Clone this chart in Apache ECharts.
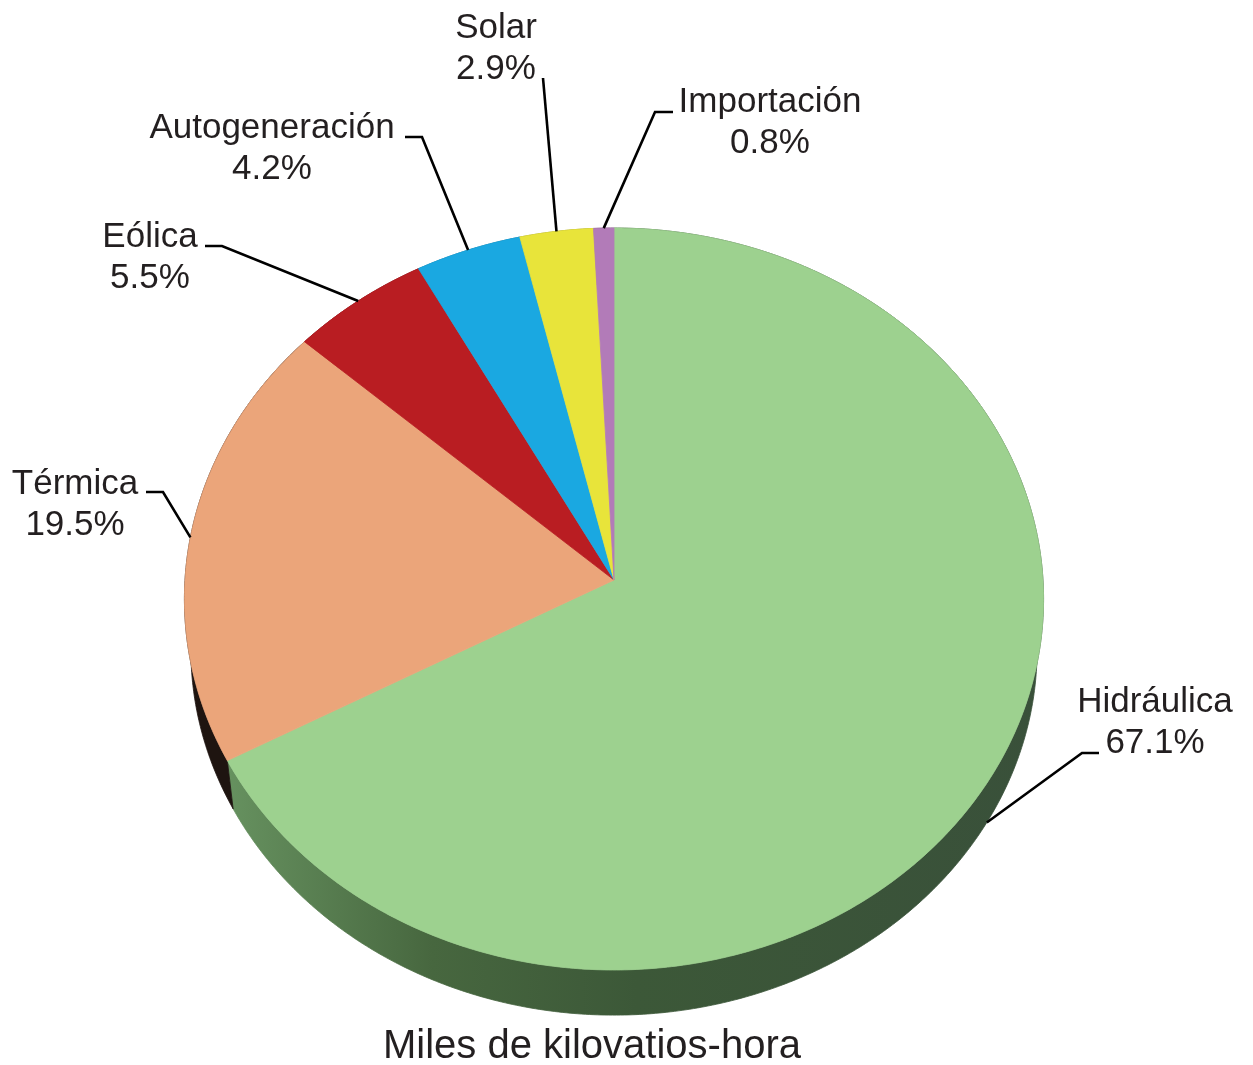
<!DOCTYPE html>
<html><head><meta charset="utf-8">
<script src="https://cdn.jsdelivr.net/npm/echarts@6/dist/echarts.min.js"></script>
<style>html,body{margin:0;padding:0;background:#fff}#c{width:1253px;height:1065px}</style>
</head><body><div id="c"></div>
<script>
// ---- data ----
const categories = ['Hidráulica', 'Térmica', 'Eólica', 'Autogeneración', 'Solar', 'Importación'];
const shares = [67.1, 19.5, 5.5, 4.2, 2.9, 0.8];
const unitLabel = 'Miles de kilovatios-hora';

// ---- styles / layout ----
const FONT = '"Liberation Sans", Arial, sans-serif';
const TEXT_COLOR = '#231f20';
const topColors = ['#9dd18f', '#eba57a', '#b91d22', '#1aa8e1', '#e8e43a', '#b27bb8'];
const sideColors = [
  { type: 'linear', x: 228, y: 0, x2: 1045, y2: 0, global: true,
    colorStops: [{ offset: 0, color: '#66915f' }, { offset: 0.25, color: '#47673f' },
                 { offset: 0.5, color: '#3c5838' }, { offset: 1, color: '#39503a' }] },
  '#1e1410', '#6e1114', '#0f6a90', '#8f8c22', '#6b4a70'
];
// top face: perspective ellipse; bottom face: shifted down and slightly shrunk
const geo = { cx: 614, cy: 580, A: 429, B: 370, k: 0.0512, drop: 51, shrink: 0.985 };
const labelLayout = [
  { pos: [1155, 723], elbow: [1082, 753], end: [1099, 753] },
  { pos: [75, 505],   elbow: [163, 492],  end: [146, 492] },
  { pos: [150, 258],  elbow: [222, 246],  end: [205, 246] },
  { pos: [272, 149],  elbow: [422, 137],  end: [405, 137] },
  { pos: [496, 49],   elbow: [543, 78],   end: [543, 78] },
  { pos: [770, 123],  elbow: [655, 112],  end: [673, 112] }
];

const total = shares.reduce((a, b) => a + b, 0);
function range(i) {
  let s = 0;
  for (let j = 0; j < i; j++) s += shares[j];
  return [s / total * 2 * Math.PI, (s + shares[i]) / total * 2 * Math.PI];
}
function proj(theta, bottom) {
  const u = Math.sin(theta), v = -Math.cos(theta);
  const w = 1 - geo.k * v;
  const dx = geo.A * u / w, dy = geo.B * v / w;
  if (!bottom) return [geo.cx + dx, geo.cy + dy];
  return [geo.cx + dx * geo.shrink, geo.cy + geo.drop + dy * geo.shrink];
}
function arc(a, b, bottom) {
  const n = Math.max(2, Math.ceil((b - a) / (Math.PI / 360)));
  const pts = [];
  for (let t = 0; t <= n; t++) pts.push(proj(a + (b - a) * t / n, bottom));
  return pts;
}

const data = shares.map((v, i) => ({ name: categories[i], value: [v] }));

const chart = echarts.init(document.getElementById('c'), null, { renderer: 'canvas' });
chart.setOption({
  animation: false,
  backgroundColor: '#ffffff',
  series: [
    {
      type: 'custom', coordinateSystem: 'none', silent: true, z: 1, data: data,
      renderItem: function (params, api) {
        const i = params.dataIndex;
        const r = range(i);
        const pts = arc(r[0], r[1], false).concat(arc(r[0], r[1], true).reverse());
        return { type: 'polygon', shape: { points: pts },
                 style: { fill: sideColors[i], stroke: sideColors[i], lineWidth: 0.8 } };
      }
    },
    {
      type: 'custom', coordinateSystem: 'none', silent: true, z: 2, data: data,
      renderItem: function (params, api) {
        const i = params.dataIndex;
        const r = range(i);
        const pts = [[geo.cx, geo.cy]].concat(arc(r[0], r[1], false));
        return { type: 'polygon', shape: { points: pts },
                 style: { fill: topColors[i], stroke: topColors[i], lineWidth: 0.8 } };
      }
    },
    {
      type: 'custom', coordinateSystem: 'none', silent: true, z: 3, data: data,
      renderItem: function (params, api) {
        const i = params.dataIndex;
        const r = range(i);
        const m = (r[0] + r[1]) / 2;
        const v = -Math.cos(m);
        const anchor = proj(m, v > 0.3);
        const L = labelLayout[i];
        return {
          type: 'group',
          children: [
            { type: 'polyline', shape: { points: [anchor, L.elbow, L.end] },
              style: { stroke: '#000', lineWidth: 2.6, fill: null } },
            { type: 'text', x: L.pos[0], y: L.pos[1],
              style: { text: categories[i] + '\n' + api.value(0).toFixed(1) + '%',
                       fontSize: 35, fontFamily: FONT, fill: TEXT_COLOR,
                       align: 'center', verticalAlign: 'middle', lineHeight: 41 } }
          ]
        };
      }
    }
  ],
  graphic: [
    { type: 'text', x: 592, y: 1047,
      style: { text: unitLabel, fontSize: 40, fontFamily: FONT, fill: TEXT_COLOR,
               align: 'center', verticalAlign: 'middle' } }
  ]
});
</script>
</body></html>
